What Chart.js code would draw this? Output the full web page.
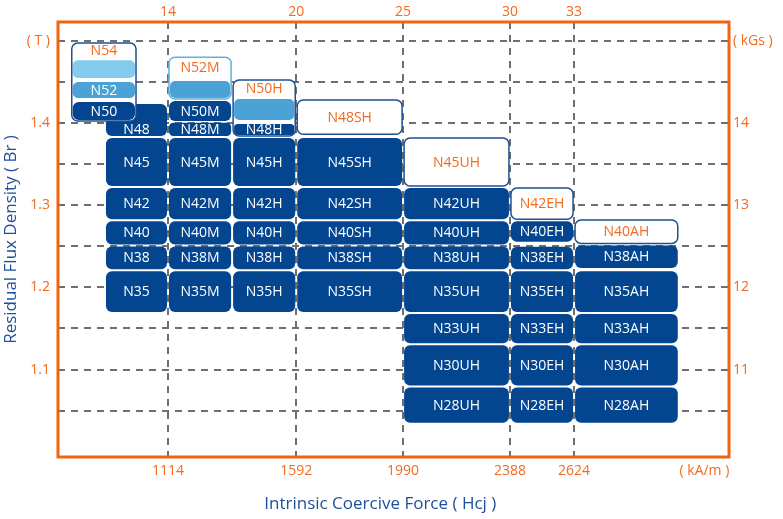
<!DOCTYPE html>
<html><head><meta charset="utf-8">
<script src="https://cdn.jsdelivr.net/npm/chart.js@4.4.0/dist/chart.umd.min.js"></script>
<style>html,body{margin:0;padding:0;background:#fff;}#wrap{width:783px;height:519px;}</style>
</head><body><div id="wrap"><canvas id="c" width="783" height="519"></canvas></div>
<script>
// ================= DATA =================
// Axis ranges
const hcjRange = [8.853, 40.25];      // kOe
const brRange  = [0.9934, 1.5235];    // T
// Tick values and labels
const hcjTicks   = [14, 20, 25, 30, 33];                 // kOe
const kOeLabels  = ['14', '20', '25', '30', '33'];
const kAmLabels  = ['1114', '1592', '1990', '2388', '2624'];
const kAmUnitAt  = 39.1;
const brTicks    = [1.05, 1.10, 1.15, 1.20, 1.25, 1.30, 1.35, 1.40, 1.45, 1.50];
const teslaLabels= ['', '1.1', '', '1.2', '', '1.3', '', '1.4', '', '( T )'];
const kGsLabels  = ['', '11', '', '12', '', '13', '', '14', '', '( kGs )'];

// Grades: name, Hcj range (kOe), Br range (T)
const gradeNames = [
  'N48','N45','N42','N40','N38','N35',
  'N48M','N45M','N42M','N40M','N38M','N35M','N50M','N52M',
  'N48H','N45H','N42H','N40H','N38H','N35H','N50H',
  'N48SH','N45SH','N42SH','N40SH','N38SH','N35SH',
  'N45UH','N42UH','N40UH','N38UH','N35UH','N33UH','N30UH','N28UH',
  'N42EH','N40EH','N38EH','N35EH','N33EH','N30EH','N28EH',
  'N40AH','N38AH','N35AH','N33AH','N30AH','N28AH',
  'N54','N52','N50'
];
const hcjLow = [
  11.05,11.05,11.05,11.05,11.05,11.05,
  14,14,14,14,14,14,14,14,
  17,17,17,17,17,17,17,
  20,20,20,20,20,20,
  25,25,25,25,25,25,25,25,
  30,30,30,30,30,30,30,
  33,33,33,33,33,33,
  9.45,9.45,9.45
];
const hcjHigh = [
  14,14,14,14,14,14,
  17,17,17,17,17,17,17,17,
  20,20,20,20,20,20,20,
  25,25,25,25,25,25,
  30,30,30,30,30,30,30,30,
  33,33,33,33,33,33,33,
  37.9,37.9,37.9,37.9,37.9,37.9,
  12.55,12.55,12.55
];
const brLow = [
  1.3833,1.3224,1.2820,1.2511,1.2210,1.1689,
  1.3834,1.3224,1.2820,1.2511,1.2210,1.1689,1.4016,1.4540,
  1.3834,1.3224,1.2820,1.2511,1.2210,1.1689,1.4320,
  1.3854,1.3224,1.2820,1.2511,1.2210,1.1689,
  1.3224,1.2820,1.2511,1.2210,1.1689,1.1309,1.0794,1.0340,
  1.2820,1.2545,1.2210,1.1689,1.1309,1.0794,1.0340,
  1.2525,1.2225,1.1689,1.1309,1.0794,1.0340,
  1.4792,1.4284,1.4016
];
const brHigh = [
  1.4248,1.3833,1.3224,1.2820,1.2511,1.2210,
  1.4020,1.3833,1.3224,1.2820,1.2511,1.2210,1.4284,1.4817,
  1.4016,1.3833,1.3224,1.2820,1.2511,1.2210,1.4540,
  1.4296,1.3833,1.3224,1.2820,1.2511,1.2210,
  1.3833,1.3224,1.2820,1.2511,1.2210,1.1689,1.1309,1.0794,
  1.3224,1.2820,1.2509,1.2210,1.1689,1.1309,1.0794,
  1.2835,1.2525,1.2210,1.1689,1.1309,1.0794,
  1.4991,1.4528,1.4284
];
// Unlabelled overlap bands
const bandHcjLow  = [9.45, 14, 17];
const bandHcjHigh = [12.55, 17, 20];
const bandBrLow   = [1.4528, 1.4284, 1.4016];
const bandBrHigh  = [1.4792, 1.4540, 1.4320];
// Outlined grade families
const groupHcjLow  = [9.45, 14, 17];
const groupHcjHigh = [12.55, 17, 20];
const groupBrLow   = [1.4016, 1.4284, 1.3834];
const groupBrHigh  = [1.4991, 1.4817, 1.4540];

// ================= STYLE =================
const FONT = 'Open Sans';
const ORANGE = '#f36a1e';
const FRAME = '#f2640f';
const NAVY = '#03458f';
const OUTLINE = '#1f4f93';
const TITLE = '#1d4f9b';
const GRID = '#6f6f6f';
const OPEN = new Set(['N54','N52M','N50H','N48SH','N45UH','N42EH','N40AH']);
const MID = new Set(['N52']);
const bandFill = ['#85cbee', '#4ba2d6', '#4ba2d6'];
const groupStroke = [OUTLINE, '#5fb2e2', OUTLINE];

function rr(ctx, x, y, w, h, r) {
  r = Math.min(r, h / 2, w / 2);
  ctx.beginPath();
  ctx.moveTo(x + r, y);
  ctx.lineTo(x + w - r, y);
  ctx.arcTo(x + w, y, x + w, y + r, r);
  ctx.lineTo(x + w, y + h - r);
  ctx.arcTo(x + w, y + h, x + w - r, y + h, r);
  ctx.lineTo(x + r, y + h);
  ctx.arcTo(x, y + h, x, y + h - r, r);
  ctx.lineTo(x, y + r);
  ctx.arcTo(x, y, x + r, y, r);
  ctx.closePath();
}

function box(chart, x0, x1, y0, y1, inset) {
  const xs = chart.scales.x, ys = chart.scales.y;
  const l = xs.getPixelForValue(x0) + inset, r = xs.getPixelForValue(x1) - inset;
  const t = ys.getPixelForValue(y1) + inset, b = ys.getPixelForValue(y0) - inset;
  return {l, t, w: r - l, h: b - t};
}

function inGroup(i) {
  for (let g = 0; g < groupHcjLow.length; g++) {
    if (hcjLow[i] >= groupHcjLow[g] - 1e-6 && hcjHigh[i] <= groupHcjHigh[g] + 1e-6 &&
        brLow[i] >= groupBrLow[g] - 1e-6 && brHigh[i] <= groupBrHigh[g] + 1e-6) return g;
  }
  return -1;
}

// top of the part of a grade box that is not covered by a family outline
function visibleTop(i) {
  let top = brHigh[i];
  for (let g = 0; g < groupHcjLow.length; g++) {
    const overlapX = groupHcjLow[g] < hcjHigh[i] && groupHcjHigh[g] > hcjLow[i];
    if (overlapX && groupBrLow[g] > brLow[i] && groupBrLow[g] < top) top = groupBrLow[g];
  }
  return top;
}

function drawGrade(chart, i, inset, withBorder) {
  const ctx = chart.ctx;
  const name = gradeNames[i];
  const b = box(chart, hcjLow[i], hcjHigh[i], brLow[i], brHigh[i], inset);
  const rad = Math.min(6, b.h / 3);
  rr(ctx, b.l, b.t, b.w, b.h, rad);
  if (OPEN.has(name)) {
    ctx.fillStyle = '#ffffff'; ctx.fill();
    if (withBorder) { ctx.lineWidth = 1.5; ctx.strokeStyle = OUTLINE; ctx.stroke(); }
  } else {
    ctx.fillStyle = MID.has(name) ? '#4ba2d6' : NAVY; ctx.fill();
  }
  const vt = chart.scales.y.getPixelForValue(visibleTop(i)) + inset;
  ctx.fillStyle = OPEN.has(name) ? ORANGE : '#ffffff';
  ctx.font = '14px "' + FONT + '"';
  ctx.textAlign = 'center'; ctx.textBaseline = 'middle';
  ctx.fillText(name, b.l + b.w / 2, (vt + b.t + b.h) / 2 + 0.5);
}

const gradePlugin = {
  id: 'grades',
  beforeDatasetsDraw(chart) {
    const ctx = chart.ctx;
    ctx.save();
    for (let i = 0; i < gradeNames.length; i++) {
      if (inGroup(i) < 0) drawGrade(chart, i, 1, true);
    }
    for (let g = 0; g < groupHcjLow.length; g++) {
      const gb = box(chart, groupHcjLow[g], groupHcjHigh[g], groupBrLow[g], groupBrHigh[g], 1);
      rr(ctx, gb.l, gb.t, gb.w, gb.h, 6);
      ctx.fillStyle = '#ffffff'; ctx.fill();
      for (let k = 0; k < bandHcjLow.length; k++) {
        if (bandHcjLow[k] >= groupHcjLow[g] - 1e-6 && bandHcjHigh[k] <= groupHcjHigh[g] + 1e-6 &&
            bandBrLow[k] >= groupBrLow[g] - 1e-6 && bandBrHigh[k] <= groupBrHigh[g] + 1e-6) {
          const bb = box(chart, bandHcjLow[k], bandHcjHigh[k], bandBrLow[k], bandBrHigh[k], 2);
          rr(ctx, bb.l, bb.t, bb.w, bb.h, 5);
          ctx.fillStyle = bandFill[k]; ctx.fill();
        }
      }
      for (let i = 0; i < gradeNames.length; i++) {
        if (inGroup(i) === g) drawGrade(chart, i, 2, false);
      }
      rr(ctx, gb.l, gb.t, gb.w, gb.h, 6);
      ctx.lineWidth = 1.5; ctx.strokeStyle = groupStroke[g]; ctx.stroke();
    }
    ctx.restore();
  },
  afterDraw(chart) {
    const a = chart.chartArea, ctx = chart.ctx;
    ctx.save();
    ctx.lineWidth = 3; ctx.strokeStyle = FRAME;
    ctx.strokeRect(a.left, a.top, a.right - a.left, a.bottom - a.top);
    ctx.restore();
  }
};

Chart.defaults.font.family = FONT;
const tickFont = {family: FONT, size: 14};

new Chart(document.getElementById('c'), {
  type: 'scatter',
  data: {datasets: []},
  plugins: [gradePlugin],
  options: {
    responsive: false, animation: false, devicePixelRatio: 1,
    layout: {padding: 0},
    plugins: {legend: {display: false}, tooltip: {enabled: false}},
    scales: {
      x: {
        type: 'linear', position: 'bottom', min: hcjRange[0], max: hcjRange[1],
        afterBuildTicks(s) { s.ticks = hcjTicks.concat([kAmUnitAt]).map(v => ({value: v})); },
        afterFit(s) { s.height = 62; },
        ticks: {autoSkip: false, maxRotation: 0, padding: 6, color: ORANGE, font: tickFont,
                callback: (v, i) => i < kAmLabels.length ? kAmLabels[i] : '( kA/m )'},
        grid: {drawTicks: false, lineWidth: 2, color: c => c.index < hcjTicks.length ? GRID : 'rgba(0,0,0,0)'},
        border: {display: false, dash: [7, 6]},
        title: {display: true, text: 'Intrinsic Coercive Force ( Hcj )      ', color: TITLE,
                font: {family: FONT, size: 17}, padding: {top: 0, bottom: 5}}
      },
      x2: {
        type: 'linear', position: 'top', min: hcjRange[0], max: hcjRange[1],
        afterBuildTicks(s) { s.ticks = hcjTicks.map(v => ({value: v})); },
        afterFit(s) { s.height = 22; },
        ticks: {autoSkip: false, maxRotation: 0, padding: 2, color: ORANGE, font: tickFont,
                callback: (v, i) => kOeLabels[i]},
        grid: {drawOnChartArea: false, drawTicks: false},
        border: {display: false}
      },
      y: {
        type: 'linear', position: 'left', min: brRange[0], max: brRange[1],
        afterBuildTicks(s) { s.ticks = brTicks.map(v => ({value: v})); },
        afterFit(s) { s.width = 58; },
        ticks: {autoSkip: false, padding: 8, color: ORANGE, font: tickFont,
                callback: (v, i) => teslaLabels[i]},
        grid: {drawTicks: false, lineWidth: 2, color: GRID},
        border: {display: false, dash: [7, 6]},
        title: {display: true, text: 'Residual Flux Density ( Br )', color: TITLE,
                font: {family: FONT, size: 17}, padding: {top: 1, bottom: 0}}
      },
      y2: {
        type: 'linear', position: 'right', min: brRange[0], max: brRange[1],
        afterBuildTicks(s) { s.ticks = brTicks.map(v => ({value: v})); },
        afterFit(s) { s.width = 54; },
        ticks: {autoSkip: false, padding: 4, color: ORANGE, font: tickFont,
                callback: (v, i) => kGsLabels[i]},
        grid: {drawOnChartArea: false, drawTicks: false},
        border: {display: false}
      }
    }
  }
});
</script>
</body></html>
